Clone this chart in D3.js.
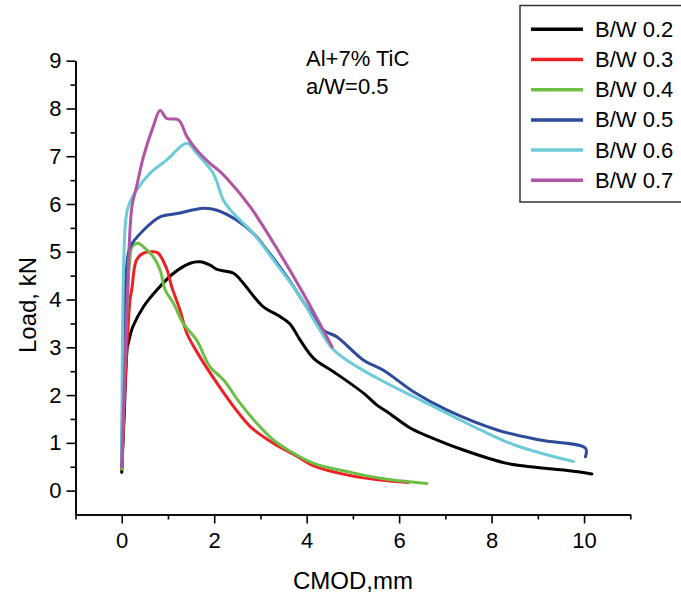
<!DOCTYPE html>
<html>
<head>
<meta charset="utf-8">
<script src="https://cdn.jsdelivr.net/npm/d3@7"></script>
<style>
  body { margin: 0; background: #fff; }
  text { font-family: "Liberation Sans", Arial, sans-serif; fill: #000; }
</style>
</head>
<body>
<script>
// series names and colours
var names = ["B/W 0.2", "B/W 0.3", "B/W 0.4", "B/W 0.5", "B/W 0.6", "B/W 0.7"];
var colors = ["#000000", "#ed2024", "#6dbe45", "#2e4b9b", "#6dcbd8", "#b055a5"];

// [CMOD mm, Load kN]
var bw02 = [[0,0.38],[0.05,1.5],[0.12,3.0],[0.14,3.08],[0.24,3.43],[0.47,3.85],[0.76,4.2],[1.12,4.55],[1.48,4.76],[1.69,4.79],[1.91,4.72],[2.06,4.63],[2.42,4.55],[2.63,4.34],[2.92,3.99],[3.07,3.84],[3.43,3.64],[3.64,3.49],[3.86,3.15],[4.15,2.77],[4.58,2.49],[5.23,2.04],[5.52,1.79],[5.74,1.65],[6.24,1.31],[6.67,1.12],[7.39,0.85],[8.33,0.57],[8.84,0.50],[9.56,0.43],[10.17,0.35]];
var bw03 = [[0,0.45],[0.1,2.8],[0.18,4.0],[0.22,4.23],[0.32,4.83],[0.47,4.97],[0.68,5.0],[0.79,4.97],[0.97,4.65],[1.08,4.27],[1.26,3.78],[1.41,3.29],[1.69,2.80],[2.06,2.25],[2.42,1.76],[2.78,1.34],[3.28,0.99],[3.79,0.72],[4.15,0.52],[4.87,0.33],[5.59,0.22],[6.2,0.17]];
var bw04 = [[0,0.45],[0.1,3.5],[0.18,4.9],[0.22,5.1],[0.36,5.18],[0.47,5.1],[0.68,4.9],[0.83,4.62],[0.94,4.2],[1.12,3.92],[1.33,3.5],[1.62,3.15],[1.91,2.59],[2.20,2.32],[2.56,1.83],[2.92,1.41],[3.28,1.06],[3.6,0.85],[4.15,0.57],[4.87,0.40],[5.59,0.26],[6.6,0.15]];
var bw05 = [[0,0.5],[0.1,4.6],[0.18,5.1],[0.47,5.45],[0.83,5.73],[1.19,5.80],[1.77,5.91],[2.06,5.87],[2.49,5.66],[2.85,5.38],[3.14,5.04],[3.57,4.48],[4.0,3.85],[4.36,3.36],[4.65,3.22],[5.23,2.73],[5.66,2.52],[6.31,2.07],[7.03,1.69],[8.12,1.27],[9.05,1.06],[10.03,0.89],[10.03,0.71]];
var bw06 = [[0,0.6],[0.08,5.6],[0.14,5.94],[0.32,6.29],[0.61,6.64],[0.97,6.92],[1.41,7.27],[1.62,7.06],[1.98,6.64],[2.20,6.08],[2.42,5.80],[2.85,5.38],[3.28,4.83],[3.86,4.06],[4.2,3.5],[4.55,2.98],[4.87,2.73],[5.59,2.32],[6.31,1.97],[7.03,1.62],[7.76,1.27],[8.48,0.96],[9.2,0.75],[9.77,0.61]];
var bw07 = [[0,0.5],[0.11,3.78],[0.22,5.94],[0.32,6.36],[0.47,6.99],[0.68,7.62],[0.83,7.96],[0.97,7.79],[1.23,7.76],[1.41,7.41],[1.62,7.13],[1.91,6.85],[2.09,6.71],[2.27,6.54],[2.78,5.94],[3.43,4.95],[4.0,4.0],[4.55,3.01]];
var series = [bw02, bw03, bw04, bw05, bw06, bw07];

// ticks
var xMajor = [0, 2, 4, 6, 8, 10];
var xMinor = [-1, 1, 3, 5, 7, 9, 11];
var yMajor = [0, 1, 2, 3, 4, 5, 6, 7, 8, 9];
var yMinor = [0.5, 1.5, 2.5, 3.5, 4.5, 5.5, 6.5, 7.5, 8.5];

var width = 681, height = 595;

var svg = d3.select("body").append("svg")
	.attr("width", width)
	.attr("height", height);

var x = d3.scaleLinear().domain([-1, 11]).range([75.5, 630.3]);
var y = d3.scaleLinear().domain([-0.5, 9]).range([514.5, 60.7]);

// axes
svg.append("g")
	.attr("transform", "translate(0," + y(-0.5) + ")")
	.call(d3.axisBottom(x).tickValues(xMajor).tickSize(9).tickSizeOuter(0).tickPadding(9));
svg.append("g")
	.attr("transform", "translate(0," + y(-0.5) + ")")
	.call(d3.axisBottom(x).tickValues(xMinor).tickSize(5).tickSizeOuter(0).tickFormat(""));

svg.append("g")
	.attr("transform", "translate(" + x(-1) + ",0)")
	.call(d3.axisLeft(y).tickValues(yMajor).tickSize(9).tickSizeOuter(0).tickPadding(5));
svg.append("g")
	.attr("transform", "translate(" + x(-1) + ",0)")
	.call(d3.axisLeft(y).tickValues(yMinor).tickSize(5).tickSizeOuter(0).tickFormat(""));

svg.selectAll(".domain").attr("stroke", "#000").attr("stroke-width", 1.6);
svg.selectAll(".tick line").attr("stroke", "#000").attr("stroke-width", 1.6);
svg.selectAll(".tick text").style("font-size", "22px").style("font-family", "Liberation Sans, Arial, sans-serif");

// curves, smoothed through the read points
var line = d3.line()
	.curve(d3.curveCatmullRom.alpha(0.5))
	.x(function(d){ return x(d[0]); })
	.y(function(d){ return y(d[1]); });

svg.append("g").selectAll("path").data(series).enter()
	.append("path")
	.attr("d", line)
	.attr("fill", "none")
	.attr("stroke", function(d, i){ return colors[i]; })
	.attr("stroke-width", 3)
	.attr("stroke-linejoin", "round")
	.attr("stroke-linecap", "round");

// axis titles
svg.append("text")
	.attr("x", 353).attr("y", 589)
	.attr("text-anchor", "middle")
	.style("font-size", "24px")
	.text("CMOD,mm");

svg.append("text")
	.attr("transform", "translate(36,305) rotate(-90)")
	.attr("text-anchor", "middle")
	.style("font-size", "24px")
	.text("Load, kN");

// annotation
svg.append("text").attr("x", 306).attr("y", 66).style("font-size", "22px").text("Al+7% TiC");
svg.append("text").attr("x", 306).attr("y", 94).style("font-size", "22px").text("a/W=0.5");

// legend
var legend = svg.append("g");
legend.append("rect")
	.attr("x", 520).attr("y", 5.5)
	.attr("width", 200).attr("height", 196.5)
	.attr("fill", "#fff")
	.attr("stroke", "#333")
	.attr("stroke-width", 1.5);

var rows = legend.selectAll("g.row").data(names).enter()
	.append("g")
	.attr("transform", function(d, i){ return "translate(0," + (29.3 + i * 30.2) + ")"; });
rows.append("line")
	.attr("x1", 531).attr("x2", 583)
	.attr("stroke", function(d, i){ return colors[i]; })
	.attr("stroke-width", 3.5);
rows.append("text")
	.attr("x", 595).attr("y", 7.5)
	.style("font-size", "22px")
	.text(function(d){ return d; });
</script>
</body>
</html>
